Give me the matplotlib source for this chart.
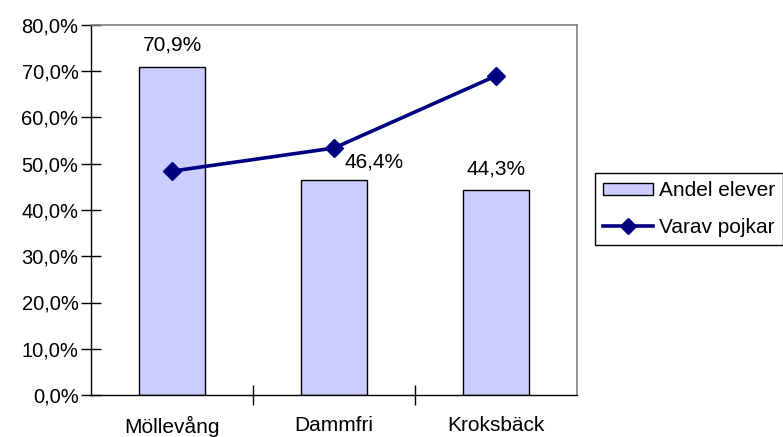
import matplotlib.pyplot as plt
from matplotlib.patches import Patch
from matplotlib.lines import Line2D
from matplotlib.ticker import FuncFormatter, MultipleLocator

plt.rcParams["font.family"] = ["Liberation Sans", "DejaVu Sans"]

schools = ["Möllevång", "Dammfri", "Kroksbäck"]
andel_elever = [70.9, 46.4, 44.3]
varav_pojkar = [48.4, 53.4, 69.0]
bar_labels = ["70,9%", "46,4%", "44,3%"]

fig = plt.figure(figsize=(7.83, 4.37), dpi=100)
ax = fig.add_axes([91 / 783, 1 - 395 / 437, 486 / 783, 370 / 437])

x = list(range(len(schools)))
ax.bar(x, andel_elever, width=0.41, color="#CCCCFF", edgecolor="black", linewidth=1.0, zorder=2)
ax.plot(x, varav_pojkar, color="#000080", linewidth=2.6, marker="D", markersize=9, zorder=3)

# value labels (Dammfri label is nudged right of the line marker, as in the original)
label_dx = [0, 0.25, 0]
label_dy = [2.8, 1.9, 2.6]
for i, (v, lab) in enumerate(zip(andel_elever, bar_labels)):
    ax.text(i + label_dx[i], v + label_dy[i], lab, ha="center", va="bottom", fontsize=15)

ax.set_xlim(-0.5, 2.5)
ax.set_ylim(0, 80)
ax.yaxis.set_major_locator(MultipleLocator(10))
ax.yaxis.set_major_formatter(FuncFormatter(lambda v, p: f"{v:.1f}%".replace(".", ",")))
ax.set_xticks([0.5, 1.5])
ax.set_xticklabels([])
ax.set_xticks(x, minor=True)
ax.set_xticklabels(schools, minor=True)
ax.tick_params(axis="x", which="minor", length=0, pad=15, labelsize=15)
ax.tick_params(axis="x", which="major", direction="inout", length=14, width=1)
ax.tick_params(axis="y", direction="inout", length=14, width=1, labelsize=14.5, pad=2)

for side in ["top", "right"]:
    ax.spines[side].set_color("#808080")
    ax.spines[side].set_linewidth(1.2)
for side in ["left", "bottom"]:
    ax.spines[side].set_color("black")
    ax.spines[side].set_linewidth(1.0)

handles = [
    Patch(facecolor="#CCCCFF", edgecolor="black", label="Andel elever"),
    Line2D([0], [0], color="#000080", linewidth=2.6, marker="D", markersize=8, label="Varav pojkar"),
]
fig.legend(handles=handles, loc="upper left", bbox_to_anchor=(595 / 783, 1 - 173 / 437),
           fontsize=15, frameon=True, fancybox=False, edgecolor="black", framealpha=1,
           borderpad=0.4, labelspacing=0.85, handlelength=2.4, handleheight=0.5,
           handletextpad=0.25, borderaxespad=0)

fig.savefig("out.png", dpi=100)
